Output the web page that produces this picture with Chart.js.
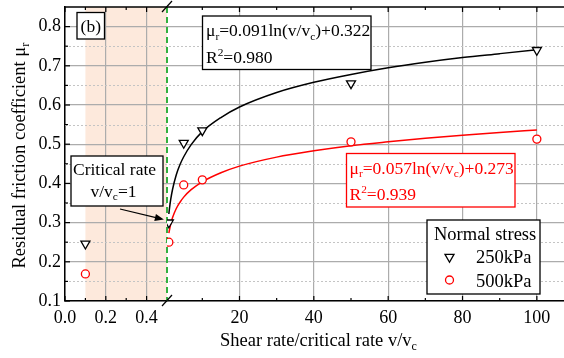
<!DOCTYPE html>
<html>
<head>
<meta charset="utf-8">
<script src="https://cdn.jsdelivr.net/npm/chart.js@4.4.0/dist/chart.umd.min.js"></script>
<style>
  html, body { margin: 0; padding: 0; background: #fff; }
</style>
</head>
<body>
<canvas id="frictionChart" width="564" height="358"></canvas>
<script>
// shear rate ratio v/vc, split at the axis break
const lowRates = [0.1];
const highRates = [1, 5, 10, 50, 100];

// residual friction coefficient
const mu250Low = [0.246];
const mu250High = [0.30, 0.503, 0.535, 0.655, 0.74];
const mu500Low = [0.169];
const mu500High = [0.25, 0.396, 0.409, 0.506, 0.513];

// fitted log curves
const fitRates = [1, 1.2, 1.5, 2, 3, 4, 5, 7, 10, 15, 20, 30, 40, 50, 60, 70, 80, 90, 100];
const fit250 = [0.322, 0.339, 0.359, 0.385, 0.422, 0.448, 0.468, 0.499, 0.532, 0.568, 0.595, 0.632, 0.658, 0.678, 0.695, 0.709, 0.721, 0.731, 0.741];
const fit500 = [0.273, 0.283, 0.296, 0.313, 0.336, 0.352, 0.365, 0.384, 0.404, 0.427, 0.444, 0.467, 0.483, 0.496, 0.506, 0.515, 0.523, 0.530, 0.536];

// ticks
const lowTicks = [0, 0.2, 0.4];
const lowMinor = [0.1, 0.3];
const highTicks = [20, 40, 60, 80, 100];
const highMinor = [10, 30, 50, 70, 90];
const yTicks = [0.1, 0.2, 0.3, 0.4, 0.5, 0.6, 0.7, 0.8];
const yMinor = [0.15, 0.25, 0.35, 0.45, 0.55, 0.65, 0.75];

const SERIF = '"Liberation Serif", "Times New Roman", serif';
const RED = '#ff0000';

function pts(xs, ys) {
    return xs.map((x, i) => ({ x: x, y: ys[i] }));
}

function richText(ctx, parts, x, y, size, align) {
    let w = 0;
    parts.forEach(p => {
        ctx.font = (p[1] ? size * 0.65 : size) + 'px ' + SERIF;
        w += ctx.measureText(p[0]).width;
    });
    let cx = align === 'center' ? x - w / 2 : x;
    ctx.textAlign = 'left';
    ctx.textBaseline = 'alphabetic';
    parts.forEach(p => {
        const s = p[1] ? size * 0.65 : size;
        ctx.font = s + 'px ' + SERIF;
        const dy = p[1] === 'sub' ? size * 0.22 : p[1] === 'sup' ? -size * 0.38 : 0;
        ctx.fillText(p[0], cx, y + dy);
        cx += ctx.measureText(p[0]).width;
    });
}

function box(ctx, x, y, w, h, color) {
    ctx.save();
    ctx.fillStyle = '#fff';
    ctx.fillRect(x, y, w, h);
    ctx.strokeStyle = color;
    ctx.lineWidth = 1.3;
    ctx.strokeRect(x, y, w, h);
    ctx.restore();
}

function triDown(ctx, x, y, r, color) {
    ctx.beginPath();
    ctx.moveTo(x, y + r);
    ctx.lineTo(x - r * 0.866, y - r / 2);
    ctx.lineTo(x + r * 0.866, y - r / 2);
    ctx.closePath();
    ctx.fillStyle = '#fff';
    ctx.fill();
    ctx.strokeStyle = color;
    ctx.lineWidth = 1.3;
    ctx.stroke();
}

function ring(ctx, x, y, r, color) {
    ctx.beginPath();
    ctx.arc(x, y, r, 0, Math.PI * 2);
    ctx.fillStyle = '#fff';
    ctx.fill();
    ctx.strokeStyle = color;
    ctx.lineWidth = 1.3;
    ctx.stroke();
}

// no automatic label padding: the plot box is fixed by layout.padding and afterFit
function fixSize(prop, size) {
    return s => {
        s[prop] = size;
        s.paddingTop = 0;
        s.paddingBottom = 0;
        s.paddingLeft = 0;
        s.paddingRight = 0;
    };
}

const decorPlugin = {
    id: 'decor',
    beforeDraw(chart) {
        const { ctx, chartArea: a, scales } = chart;
        const x1 = scales.x1;
        ctx.save();
        ctx.fillStyle = '#fde9dc';
        const l = x1.getPixelForValue(0.1), r = x1.getPixelForValue(0.5);
        ctx.fillRect(l, a.top, r - l, a.bottom - a.top);
        ctx.restore();
    },
    beforeDatasetsDraw(chart) {
        const { ctx, chartArea: a, scales } = chart;
        const { x1, x2, y } = scales;
        ctx.save();
        // minor dotted grid
        ctx.strokeStyle = '#c4c4c4';
        ctx.lineWidth = 1;
        ctx.setLineDash([2, 2]);
        yMinor.forEach(v => {
            const py = Math.round(y.getPixelForValue(v)) + 0.5;
            ctx.beginPath();
            ctx.moveTo(a.left, py);
            ctx.lineTo(a.right, py);
            ctx.stroke();
        });
        // critical rate marker
        ctx.strokeStyle = '#33b040';
        ctx.lineWidth = 2;
        ctx.setLineDash([6, 4]);
        const gx = x1.getPixelForValue(0.5);
        ctx.beginPath();
        ctx.moveTo(gx, a.top);
        ctx.lineTo(gx, a.bottom);
        ctx.stroke();
        ctx.setLineDash([]);

        // top frame
        ctx.strokeStyle = '#000';
        ctx.lineWidth = 1.5;
        ctx.beginPath();
        ctx.moveTo(a.left, a.top);
        ctx.lineTo(a.right, a.top);
        ctx.stroke();

        // inside ticks
        ctx.lineWidth = 1.2;
        const vTick = (px, len) => {
            ctx.beginPath();
            ctx.moveTo(px, a.bottom);
            ctx.lineTo(px, a.bottom - len);
            ctx.moveTo(px, a.top);
            ctx.lineTo(px, a.top + len);
            ctx.stroke();
        };
        lowTicks.forEach(v => vTick(x1.getPixelForValue(v), 5));
        lowMinor.forEach(v => vTick(x1.getPixelForValue(v), 3));
        highTicks.forEach(v => vTick(x2.getPixelForValue(v), 5));
        highMinor.forEach(v => vTick(x2.getPixelForValue(v), 3));
        const hTick = (py, len) => {
            ctx.beginPath();
            ctx.moveTo(a.left, py);
            ctx.lineTo(a.left + len, py);
            ctx.stroke();
        };
        yTicks.forEach(v => hTick(y.getPixelForValue(v), 5));
        yMinor.forEach(v => hTick(y.getPixelForValue(v), 3));
        ctx.restore();
    },
    afterDraw(chart) {
        const { ctx, chartArea: a, scales } = chart;
        const { x1, x2, y } = scales;
        ctx.save();

        // axis break marks
        const bx = x1.getPixelForValue(0.5);
        ctx.strokeStyle = '#000';
        ctx.lineWidth = 1.2;
        [a.top, a.bottom].forEach(py => {
            ctx.beginPath();
            ctx.moveTo(bx - 5, py + 5);
            ctx.lineTo(bx + 5, py - 6);
            ctx.stroke();
        });

        ctx.fillStyle = '#000';
        // panel label
        box(ctx, 77, 12.5, 27.5, 26.5, '#000');
        richText(ctx, [['(b)']], 90.8, 31.5, 17.5, 'center');

        // black fit equation
        box(ctx, 202.5, 16, 168.5, 53.5, '#000');
        ctx.fillStyle = '#000';
        richText(ctx, [['\u03bc'], ['r', 'sub'], ['=0.091ln(v/v'], ['c', 'sub'], [')+0.322']], 206, 36, 17.5);
        richText(ctx, [['R'], ['2', 'sup'], ['=0.980']], 206, 63, 17.5);

        // red fit equation
        box(ctx, 346.5, 153.5, 168.5, 53.5, RED);
        ctx.fillStyle = RED;
        richText(ctx, [['\u03bc'], ['r', 'sub'], ['=0.057ln(v/v'], ['c', 'sub'], [')+0.273']], 349.5, 173.5, 17.5);
        richText(ctx, [['R'], ['2', 'sup'], ['=0.939']], 349.5, 199.5, 17.5);

        // critical rate note with arrow
        box(ctx, 71, 156, 92, 50, '#000');
        ctx.fillStyle = '#000';
        richText(ctx, [['Critical rate']], 114.5, 175, 17.5, 'center');
        richText(ctx, [['v/v'], ['c', 'sub'], ['=1']], 113.5, 196.5, 17.5, 'center');
        const tx = x2.getPixelForValue(highRates[0]) - 5;
        const ty = y.getPixelForValue(mu250High[0]) - 3;
        const sx = 120, sy = 209;
        const ang = Math.atan2(ty - sy, tx - sx);
        ctx.strokeStyle = '#000';
        ctx.lineWidth = 1.2;
        ctx.beginPath();
        ctx.moveTo(sx, sy);
        ctx.lineTo(tx - Math.cos(ang) * 6, ty - Math.sin(ang) * 6);
        ctx.stroke();
        ctx.beginPath();
        ctx.moveTo(tx, ty);
        ctx.lineTo(tx - Math.cos(ang) * 9 + Math.sin(ang) * 3.5, ty - Math.sin(ang) * 9 - Math.cos(ang) * 3.5);
        ctx.lineTo(tx - Math.cos(ang) * 9 - Math.sin(ang) * 3.5, ty - Math.sin(ang) * 9 + Math.cos(ang) * 3.5);
        ctx.closePath();
        ctx.fill();

        // legend
        box(ctx, 427, 220, 113, 74, '#000');
        ctx.fillStyle = '#000';
        richText(ctx, [['Normal stress']], 434, 240, 18.5);
        triDown(ctx, 449.5, 257, 5.2, '#000');
        ctx.fillStyle = '#000';
        richText(ctx, [['250kPa']], 476, 262.5, 18.5);
        ring(ctx, 449.5, 280, 4, RED);
        ctx.fillStyle = '#000';
        richText(ctx, [['500kPa']], 476, 286.5, 18.5);

        // axis titles
        richText(ctx, [['Shear rate/critical rate v/v'], ['c', 'sub']], 220, 346, 18.5);
        ctx.translate(25, 268.5);
        ctx.rotate(-Math.PI / 2);
        richText(ctx, [['Residual friction coefficient \u03bc'], ['r', 'sub']], 0, 0, 18.5);
        ctx.restore();
    }
};

const tickFont = { family: SERIF, size: 18 };
const gridOpts = { color: '#acacac', lineWidth: 1.2, drawTicks: false };
const borderOpts = { color: '#000', width: 1.5 };

const ctx = document.getElementById('frictionChart').getContext('2d');
const frictionChart = new Chart(ctx, {
    type: 'scatter',
    data: {
        datasets: [{
            label: '250kPa',
            data: pts(lowRates, mu250Low),
            xAxisID: 'x1',
            pointStyle: 'triangle',
            rotation: 180,
            pointRadius: 5.2,
            borderColor: '#000',
            backgroundColor: '#fff',
            borderWidth: 1.3
        }, {
            label: '250kPa',
            data: pts(highRates, mu250High),
            xAxisID: 'x2',
            pointStyle: 'triangle',
            rotation: 180,
            pointRadius: 5.2,
            borderColor: '#000',
            backgroundColor: '#fff',
            borderWidth: 1.3
        }, {
            label: '500kPa',
            data: pts(lowRates, mu500Low),
            xAxisID: 'x1',
            pointRadius: 4,
            borderColor: RED,
            backgroundColor: '#fff',
            borderWidth: 1.3
        }, {
            label: '500kPa',
            data: pts(highRates, mu500High),
            xAxisID: 'x2',
            pointRadius: 4,
            borderColor: RED,
            backgroundColor: '#fff',
            borderWidth: 1.3
        }, {
            label: 'fit 250kPa',
            data: pts(fitRates, fit250),
            xAxisID: 'x2',
            showLine: true,
            pointRadius: 0,
            borderColor: '#000',
            borderWidth: 1.5,
            cubicInterpolationMode: 'monotone'
        }, {
            label: 'fit 500kPa',
            data: pts(fitRates, fit500),
            xAxisID: 'x2',
            showLine: true,
            pointRadius: 0,
            borderColor: RED,
            borderWidth: 1.5,
            cubicInterpolationMode: 'monotone'
        }]
    },
    options: {
        responsive: false,
        animation: false,
        layout: { autoPadding: false, padding: { top: 7, right: 0, bottom: 0, left: 0 } },
        plugins: { legend: { display: false }, tooltip: { enabled: false } },
        scales: {
            x1: {
                type: 'linear',
                position: 'bottom',
                stack: 'rate',
                stackWeight: 102,
                min: 0,
                max: 0.5,
                afterBuildTicks: s => { s.ticks = lowTicks.map(v => ({ value: v })); },
                afterFit: fixSize('height', 57),
                grid: gridOpts,
                border: borderOpts,
                ticks: { font: tickFont, color: '#000', padding: 6, maxRotation: 0, autoSkip: false, callback: v => v.toFixed(1) }
            },
            x2: {
                type: 'linear',
                position: 'bottom',
                stack: 'rate',
                stackWeight: 397,
                min: 0.5,
                max: 107.3,
                afterBuildTicks: s => { s.ticks = highTicks.map(v => ({ value: v })); },
                afterFit: fixSize('height', 57),
                grid: gridOpts,
                border: borderOpts,
                ticks: { font: tickFont, color: '#000', padding: 6, maxRotation: 0, autoSkip: false, callback: v => String(v) }
            },
            y: {
                type: 'linear',
                position: 'left',
                min: 0.1,
                max: 0.85,
                afterBuildTicks: s => { s.ticks = yTicks.map(v => ({ value: v })); },
                afterFit: fixSize('width', 65),
                grid: gridOpts,
                border: borderOpts,
                ticks: { font: tickFont, color: '#000', padding: 4, autoSkip: false, callback: v => v.toFixed(1) }
            }
        }
    },
    plugins: [decorPlugin]
});
</script>
</body>
</html>
